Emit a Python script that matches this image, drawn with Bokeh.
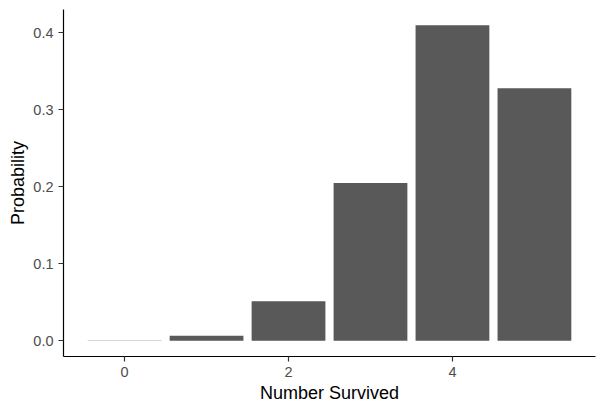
from bokeh.plotting import figure
from bokeh.models import Range1d, FixedTicker, NumeralTickFormatter
from bokeh.embed import file_html
from bokeh.resources import INLINE

survived = [0, 1, 2, 3, 4, 5]
probability = [0.00032, 0.0064, 0.0512, 0.2048, 0.4096, 0.32768]
x_ticks = [0, 2, 4]
y_ticks = [0.0, 0.1, 0.2, 0.3, 0.4]

p = figure(width=605, height=413, output_backend="svg", toolbar_location=None,
           x_range=Range1d(-0.745, 5.745), y_range=Range1d(-0.02048, 0.43008),
           min_border_left=63, min_border_right=10, min_border_top=9, min_border_bottom=57)

p.vbar(x=survived, top=probability, bottom=0, width=0.9, fill_color="#595959", line_color=None)

p.xgrid.visible = False
p.ygrid.visible = False
p.outline_line_color = None

for ax in (p.xaxis[0], p.yaxis[0]):
    ax.axis_line_color = "#000000"
    ax.axis_line_width = 1.2
    ax.major_tick_line_color = "#333333"
    ax.major_tick_line_width = 1.2
    ax.major_tick_out = 5
    ax.major_tick_in = 0
    ax.minor_tick_line_color = None
    ax.major_label_text_color = "#4D4D4D"
    ax.major_label_text_font = "Liberation Sans"
    ax.major_label_text_font_size = "14.5px"
    ax.axis_label_text_font = "Liberation Sans"
    ax.axis_label_text_font_size = "18px"
    ax.axis_label_text_font_style = "normal"
    ax.axis_label_text_color = "#000000"

p.xaxis.ticker = FixedTicker(ticks=x_ticks)
p.yaxis.ticker = FixedTicker(ticks=y_ticks)
p.yaxis.formatter = NumeralTickFormatter(format="0.0")
p.xaxis.axis_label = "Number Survived"
p.yaxis.axis_label = "Probability"
p.xaxis.major_label_standoff = 5
p.yaxis.major_label_standoff = 5
p.xaxis.axis_label_standoff = 3
p.yaxis.axis_label_standoff = 2

open("out.html", "w").write(file_html(p, INLINE))
